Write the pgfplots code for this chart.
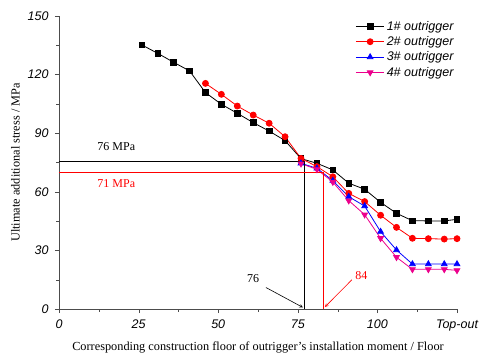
\documentclass[border=0pt]{standalone}
\usepackage{pgfplots}
\pgfplotsset{compat=1.18}
\usepackage{fontspec}
\setmainfont{Liberation Serif}
\setsansfont{Liberation Sans}
\begin{document}
\begin{tikzpicture}
\begin{axis}[
  name=ax,
  scale only axis,
  width=398pt, height=293pt,
  xmin=0, xmax=125, ymin=0, ymax=150,
  axis lines=left,
  axis line style={-, black!70},
  xtick={0,25,50,75,100,125},
  xticklabels={0,25,50,75,100,Top-out},
  ytick={0,30,60,90,120,150},
  minor x tick num=1, minor y tick num=1,
  tick align=outside,
  tick style={black!70},
  major tick length=4pt, minor tick length=2.5pt,
  /pgf/number format/assume math mode=true,
  ticklabel style={font=\sffamily\itshape\fontsize{12.5}{14}\selectfont},
  yticklabel style={xshift=-3pt},
  xticklabel style={yshift=-3pt},
  xlabel={Corresponding construction floor of outrigger's installation moment / Floor},
  ylabel={Ultimate additional stress / MPa},
  label style={font=\fontsize{12.3}{14}\selectfont},
  ylabel style={yshift=1pt},
  xlabel style={yshift=-4pt},
  legend style={draw=none, fill=none, at={(0.737,0.997)}, anchor=north west, font=\sffamily\itshape\fontsize{12.5}{14}\selectfont, row sep=0.8pt},
  legend cell align=left,
  legend image code/.code={\draw[mark repeat=2,mark phase=2] plot coordinates {(0cm,0cm)(0.5cm,0cm)(1cm,0cm)};},
  every axis plot/.append style={line width=0.8pt, mark size=3pt},
  clip=false,
]
\addplot[black, mark=square*, mark size=2.8pt] coordinates {
(26,135.2)(31,130.9)(36,126.3)(41,121.9)(46,110.8)(51,104.8)(56,100.2)(61,95.4)(66,91.1)(71,86.2)(76,77)(81,74.6)(86,71.2)(91,64.4)(96,61.3)(101,54.6)(106,49)(111,45.2)(116,45.1)(121,45.1)(125,45.9)};
\addlegendentry{1\# outrigger}
\addplot[red, mark=*] coordinates {
(46,115.5)(51,109.9)(56,103.9)(61,99.3)(66,95.1)(71,88.2)(76,77.1)(81,72.9)(86,67.7)(91,59.2)(96,55)(101,48)(106,41.8)(111,36.2)(116,36)(121,35.8)(125,36)};
\addlegendentry{2\# outrigger}
\addplot[blue, mark=triangle*, mark size=3.3pt] coordinates {
(76,74.6)(81,72)(86,65.7)(91,57.5)(96,52.7)(101,39.6)(106,30.2)(111,23)(116,23)(121,23)(125,23)};
\addlegendentry{3\# outrigger}
\addplot[magenta, mark=triangle*, mark size=3.3pt, mark options={rotate=180}] coordinates {
(76,74.4)(81,71.5)(86,65)(91,55.5)(96,48.3)(101,36.2)(106,26.5)(111,20.3)(116,20.3)(121,20.3)(125,19.8)};
\addlegendentry{4\# outrigger}
\draw[black, semithick] (axis cs:0,75.8) -- (axis cs:77,75.8) -- (axis cs:77,0);
\draw[red, semithick] (axis cs:0,70.2) -- (axis cs:83,70.2) -- (axis cs:83,0);
\draw[black, semithick, -stealth] (axis cs:65,11) -- (axis cs:76.6,0.8);
\draw[red, semithick, -stealth] (axis cs:92,15) -- (axis cs:83.5,1);
\node[font=\fontsize{12}{14}\selectfont] at (axis cs:61,15.5) {76};
\node[font=\fontsize{12}{14}\selectfont, red] at (axis cs:95,17) {84};
\node[font=\fontsize{12}{14}\selectfont] at (axis cs:18,83) {76 MPa};
\node[font=\fontsize{12}{14}\selectfont, red] at (axis cs:18,64) {71 MPa};
\end{axis}
\pgfresetboundingbox
\path ([shift={(-59pt,-47pt)}]ax.south west) rectangle ([shift={(22pt,16pt)}]ax.north east);
\end{tikzpicture}
\end{document}
